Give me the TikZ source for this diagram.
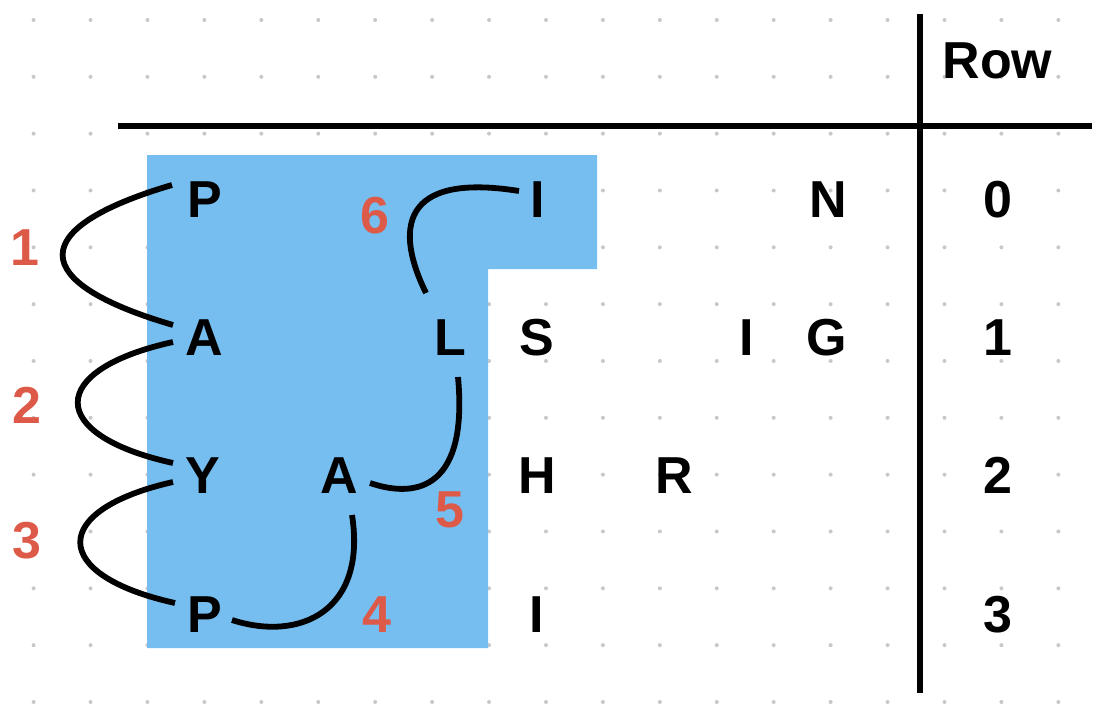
\documentclass[tikz,border=0pt]{standalone}
\usepackage{fontspec}
\setmainfont{Liberation Sans}
\definecolor{hlblue}{RGB}{118,190,240}
\definecolor{numred}{RGB}{222,90,72}
\definecolor{dotgray}{RGB}{200,200,200}
\tikzset{
  letter/.style={font=\fontsize{52}{60}\selectfont\bfseries, anchor=base, inner sep=0pt, text=black},
  stepnum/.style={letter, text=numred},
  zig/.style={line width=5.8pt, black},
  rule/.style={line width=6pt, black},
}
\begin{document}
\begin{tikzpicture}[x=1pt,y=-1pt]
\useasboundingbox (0,0) rectangle (1106,704);
% dot grid
\foreach \k in {0,...,18}{
  \foreach \j in {0,...,12}{
    \fill[dotgray] ({33.6+56.93*\k},{20+56.83*\j}) circle (2pt);
  }
}
% highlighted region
\fill[hlblue] (147,155) -- (597,155) -- (597,269) -- (488,269) -- (488,648) -- (147,648) -- cycle;
% table rules
\coordinate (hl) at (118,126);
\coordinate (hr) at (1092,126);
\coordinate (vt) at (920,14);
\coordinate (vb) at (920,693);
\draw[rule] (hl) -- (hr);
\draw[rule] (vt) -- (vb);
% letters
\node[letter] (P0) at (205,217) {P};
\node[letter] (I0) at (537.5,217) {I};
\node[letter] (N0) at (828,217) {N};
\node[letter] (A1) at (204,355) {A};
\node[letter] (L1) at (450,355) {L};
\node[letter] (S1) at (537,355) {S};
\node[letter] (I1) at (747,355) {I};
\node[letter] (G1) at (827,355) {G};
\node[letter] (Y2) at (203,493) {Y};
\node[letter] (A2) at (339.5,493) {A};
\node[letter] (H2) at (537,493) {H};
\node[letter] (R2) at (674,493) {R};
\node[letter] (P3) at (205,632) {P};
\node[letter] (I3) at (537,632) {I};
% row header and numbers
\node[letter] (rowh) at (997.5,78) {Row};
\node[letter] (r0) at (998,217) {0};
\node[letter] (r1) at (998,355) {1};
\node[letter] (r2) at (998,493) {2};
\node[letter] (r3) at (998,632) {3};
% step numbers
\node[stepnum] (s1) at (25,265) {1};
\node[stepnum] (s2) at (27,423) {2};
\node[stepnum] (s3) at (27,558) {3};
\node[stepnum] (s4) at (377,632) {4};
\node[stepnum] (s5) at (450,527) {5};
\node[stepnum] (s6) at (375,233) {6};
% zigzag path
\draw[zig] ([xshift=-33pt,yshift=32pt]P0.base) .. controls (26,228) and (26,282) .. ([xshift=-31pt,yshift=30pt]A1.base);
\draw[zig] ([xshift=-31pt,yshift=13pt]A1.base) .. controls (46,370) and (46,435) .. ([xshift=-30pt,yshift=30pt]Y2.base);
\draw[zig] ([xshift=-30pt,yshift=11pt]Y2.base) .. controls (49,510) and (49,575) .. ([xshift=-30pt,yshift=29pt]P3.base);
\draw[zig] ([xshift=27pt,yshift=12pt]P3.base) .. controls (300,642) and (367,611) .. ([xshift=12.5pt,yshift=-22pt]A2.base);
\draw[zig] ([xshift=30.5pt,yshift=10pt]A2.base) .. controls (420,500) and (468,485) .. ([xshift=8pt,yshift=-22pt]L1.base);
\draw[zig] ([xshift=-24pt,yshift=62pt]L1.base) .. controls (395,230) and (400,172) .. ([xshift=-18.5pt,yshift=26pt]I0.base);
\end{tikzpicture}
\end{document}
